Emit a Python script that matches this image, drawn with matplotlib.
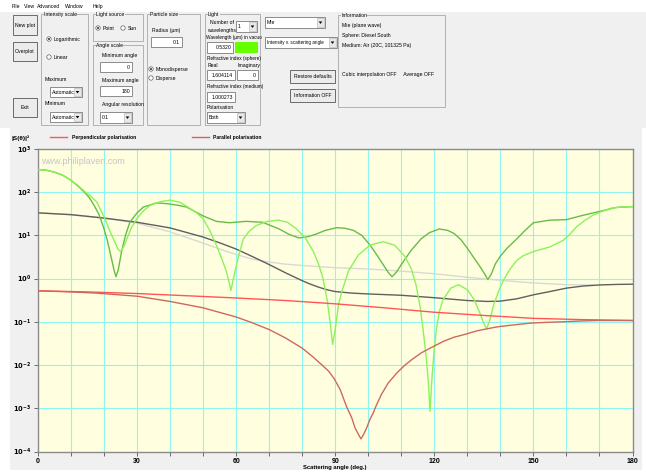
import matplotlib.pyplot as plt
from matplotlib.patches import Rectangle, Circle, Polygon

plt.rcParams['font.family'] = ['Liberation Sans', 'DejaVu Sans']

# ---- data (angle in degrees, |S|^2) ----
green_dark_ang = [0, 2.5, 5, 7.5, 10, 12, 14, 15.5, 17, 18.5, 20, 21, 22, 23, 23.6, 24.3, 25.3, 26.5,
                  27.8, 30, 31.9, 35.9, 38.9, 42, 45, 50, 54, 58, 63, 68, 73, 76, 79, 81.5, 84, 87,
                  90.5, 93, 95.5, 98, 100.5, 102.5, 104.5, 106, 107.2, 108.5, 110.5, 113, 116, 118.5,
                  121.5, 124, 126, 128, 130, 132, 134, 135.3, 136.2, 137.2, 138.5, 140, 142, 145,
                  147.5, 150, 155, 160, 165, 170, 175, 180]
green_dark_val = [331, 320, 288, 245, 186, 140, 100, 75, 49, 30, 14, 7.5, 3.5, 1.6, 1.1, 1.6, 4.2, 10,
                  20, 33, 45, 56, 54, 50, 45, 28, 21, 19.5, 21, 20, 14, 10.5, 8.7, 9.2, 10.5, 13,
                  15, 14.5, 13, 10, 6, 3.6, 2.1, 1.4, 1.1, 1.4, 2.4, 4.5, 8.3, 11.5,
                  14, 13, 11, 8, 5, 3, 1.8, 1.25, 0.95, 1.25, 2.2, 3.3, 5, 8.3,
                  13, 19.5, 22.4, 23, 29, 35.5, 44, 46]

green_light_ang = [0, 2.5, 5, 7.5, 10, 12, 14, 16, 17.8, 19, 20.3, 21.5, 22.8, 24.2, 25, 26, 26.9,
                   28.3, 29.9, 31.8, 33.9, 37, 40, 43, 46, 48, 50, 52, 54, 55.7, 57.1, 57.9, 58.4,
                   58.9, 59.6, 60.8, 62.2, 64, 66.2, 69.5, 72.8, 75.5, 78.3, 81, 83.4, 85, 86.3, 87.6,
                   88.5, 89.2, 89.9, 91, 92, 94, 97, 100.5, 104.5, 108, 111, 113, 114.5, 115.7, 116.6,
                   117.5, 118.2, 118.7, 119.2, 119.9, 120.6, 121.5, 122.6, 125, 127.3, 130, 132, 133.5,
                   134.8, 135.8, 136.8, 138, 139.5, 141, 142.8, 144.9, 147, 150, 155, 159, 161, 163,
                   165.5, 168, 170.5, 173.4, 176.5, 180]
green_light_val = [331, 320, 288, 245, 186, 145, 105, 80, 59, 38, 24, 14, 8.3, 4.8, 4.2, 5.5, 8.3,
                   15, 24, 36, 49, 60, 65, 58, 42, 33, 24, 13, 5.9, 2.8, 1.4, 0.8, 0.53,
                   0.8, 1.4, 3.5, 8.3, 12.5, 17, 21, 22.4, 20, 14, 8.5, 4.2, 2.1, 1.0, 0.3,
                   0.09, 0.03, 0.06, 0.25, 0.5, 1.5, 3.5, 5.9, 7.1, 5.9, 3.3, 1.7, 0.7, 0.22, 0.066,
                   0.016, 0.004, 0.00085, 0.004, 0.02, 0.066, 0.17, 0.32, 0.6, 0.72, 0.55, 0.33, 0.18,
                   0.1, 0.068, 0.11, 0.25, 0.52, 0.93, 1.6, 2.6, 3.4, 4.2, 5.4, 7.6, 10.5, 15.5,
                   22, 29, 35, 42, 45, 46]

gray_dark_ang = [0, 10, 20, 30, 40, 50, 55, 60, 65, 70, 75, 80, 82.5, 85, 87.5, 90, 95, 100, 110, 120,
                 130, 136, 140, 145, 150, 155, 160, 165, 170, 175, 180]
gray_dark_val = [33, 30, 25, 20, 14.8, 9.1, 6.7, 4.8, 3.2, 2.1, 1.35, 0.89, 0.74, 0.63, 0.55, 0.5, 0.46,
                 0.44, 0.41, 0.36, 0.31, 0.295, 0.3, 0.34, 0.42, 0.5, 0.6, 0.67, 0.71, 0.73, 0.74]

gray_light_ang = [0, 10, 20, 30, 40, 50, 55, 60, 65, 70, 75, 80, 90, 100, 110, 120, 130, 140, 150,
                  160, 168]
gray_light_val = [33, 30, 25, 19, 12, 6.6, 4.8, 3.6, 2.8, 2.4, 2.15, 2.0, 1.78, 1.66, 1.48, 1.29, 1.07,
                  0.91, 0.79, 0.72, 0.71]

perp_ang = [0, 15, 30, 45, 60, 75, 90, 105, 120, 135, 150, 165, 180]
perp_val = [0.52, 0.49, 0.45, 0.40, 0.355, 0.31, 0.26, 0.21, 0.166, 0.14, 0.12, 0.112, 0.107]

par_ang = [0, 10, 17.8, 30, 40, 50, 60, 65, 70, 75, 80, 83, 86, 88, 89.7, 91.5, 93.4, 95, 96, 97,
           97.8, 98.6, 99.5, 100.5, 101.5, 102.5, 104, 106, 108.6, 111, 113, 116, 118.7, 123, 126,
           128.8, 133, 138.9, 143, 149, 154, 159, 164, 169.4, 180]
par_val = [0.52, 0.49, 0.46, 0.39, 0.295, 0.21, 0.129, 0.094, 0.066, 0.042, 0.0245, 0.016, 0.01,
           0.0072, 0.0048, 0.0027, 0.0011, 0.0006, 0.00035, 0.00025, 0.000195, 0.00025, 0.00035,
           0.00055, 0.00078, 0.0012, 0.0021, 0.0038, 0.0065, 0.0098, 0.013, 0.019, 0.0245, 0.036,
           0.044, 0.05, 0.062, 0.076, 0.083, 0.093, 0.097, 0.1, 0.104, 0.107, 0.107]

x_ticks = [0, 30, 60, 90, 120, 150, 180]
y_exps = [-4, -3, -2, -1, 0, 1, 2, 3]

C_PERP = '#ff5555'
C_PAR = '#d0675c'
GUI = '#f0f0f0'
FS = 3.7

W, H = 646, 474
fig = plt.figure(figsize=(W / 100, H / 100), dpi=100, facecolor='white')

# background axes in pixel coordinates for the window chrome
bg = fig.add_axes([0, 0, 1, 1], zorder=0)
bg.set_xlim(0, W)
bg.set_ylim(H, 0)
bg.axis('off')


def rect(x0, y0, x1, y1, fc='none', ec='none', lw=0.6, z=1):
    bg.add_patch(Rectangle((x0, y0), x1 - x0, y1 - y0, facecolor=fc, edgecolor=ec, linewidth=lw, zorder=z))


def label(x, y, s, ha='left', size=FS, **kw):
    bg.text(x, y, s, ha=ha, va='center', fontsize=size, color='black', zorder=5, **kw)


def group(x0, y0, x1, y1, title):
    rect(x0, y0, x1, y1, ec='#a8a8a8', lw=0.6)
    bg.text(x0 + 3, y0, title, ha='left', va='center', fontsize=FS, zorder=5,
            bbox=dict(facecolor=GUI, edgecolor='none', pad=0.3))


def button(x0, y0, x1, y1, s):
    rect(x0, y0, x1, y1, fc='#ececec', ec='#6a6a6a', lw=0.7, z=2)
    label((x0 + x1) / 2, (y0 + y1) / 2, s, ha='center')


def textbox(x0, y0, x1, y1, s):
    rect(x0, y0, x1, y1, fc='white', ec='#7a7a7a', lw=0.6, z=2)
    label(x1 - 2, (y0 + y1) / 2, s, ha='right')


def dropdown(x0, y0, x1, y1, s, size=FS):
    rect(x0, y0, x1, y1, fc='white', ec='#7a7a7a', lw=0.6, z=2)
    rect(x1 - 8, y0 + 1, x1 - 1, y1 - 1, fc='#e8e8e8', ec='#b0b0b0', lw=0.4, z=3)
    my = (y0 + y1) / 2
    bg.add_patch(Polygon([[x1 - 6.3, my - 1], [x1 - 2.7, my - 1], [x1 - 4.5, my + 1.4]],
                         closed=True, facecolor='black', edgecolor='none', zorder=4))
    label(x0 + 2, my, s, size=size)


def radio(x, y, s, checked=False):
    bg.add_patch(Circle((x, y), 2.2, facecolor='white', edgecolor='#606060', linewidth=0.5, zorder=3))
    if checked:
        bg.add_patch(Circle((x, y), 0.9, facecolor='black', edgecolor='none', zorder=4))
    label(x + 5, y, s)


# window panels
rect(0, 12, W, 128, fc=GUI)
rect(10, 128, 642, 470, fc=GUI)

# menu bar
for mx, s in [(12, 'File'), (24, 'View'), (37, 'Advanced'), (65, 'Window'), (93, 'Help')]:
    label(mx, 6, s)

button(13, 15, 37, 35, 'New plot')
button(13, 42, 37, 61, 'Overplot')
button(13, 98, 37, 117, 'Exit')

group(41, 14, 88, 125, 'Intensity scale')
radio(49, 39, 'Logarithmic', True)
radio(49, 57, 'Linear')
label(45, 79, 'Maximum')
dropdown(50, 87, 82, 97, 'Automatic')
label(45, 103, 'Minimum')
dropdown(50, 112, 82, 122, 'Automatic')

group(93, 14, 143, 41, 'Light source')
radio(98, 28, 'Point', True)
radio(123, 28, 'Sun')

group(93, 45, 143, 125, 'Angle scale')
label(102, 55, 'Minimum angle')
textbox(100, 62, 132, 72, '0')
label(102, 80, 'Maximum angle')
textbox(100, 86, 132, 96, '180')
label(102, 104, 'Angular resolution')
dropdown(100, 112, 132, 123, '0.1')

group(147, 14, 200, 125, 'Particle size')
label(152, 30, 'Radius (µm)')
textbox(151, 37, 182, 47, '0.1')
radio(151, 69, 'Monodisperse', True)
radio(151, 78, 'Disperse')

group(205, 14, 260, 125, 'Light')
label(222, 22, 'Number of', ha='center')
label(222, 30, 'wavelengths', ha='center')
dropdown(236, 21, 257, 32, '1')
label(206, 37, 'Wavelength (µm) in vacuo', size=3.4)
textbox(207, 42, 233, 53, '0.5320')
rect(235, 42, 258, 53, fc='#66ff00', z=2)
label(207, 58, 'Refractive index (sphere)', size=3.4)
label(208, 65, 'Real')
label(238, 65, 'Imaginary')
textbox(207, 70, 235, 80, '1.604114')
textbox(237, 70, 258, 80, '0')
label(207, 86, 'Refractive index (medium)', size=3.4)
textbox(207, 92, 235, 102, '1.000273')
label(207, 107, 'Polarisation')
dropdown(207, 112, 245, 123, 'Both')

dropdown(265, 17, 325, 28, 'Mie')
dropdown(265, 37, 337, 48, 'Intensity v. scattering angle', size=3.3)
button(290, 70, 335, 83, 'Restore defaults')
button(290, 89, 335, 102, 'Information OFF')

group(338, 15, 445, 107, 'Information')
label(342, 25, 'Mie (plane wave)')
label(342, 35, 'Sphere: Diesel South')
label(342, 45, 'Medium: Air (20C, 101325 Pa)')
label(342, 74, 'Cubic interpolation OFF     Average OFF')

# legend row above the plot
bg.text(12, 138, '|S(θ)|²', ha='left', va='center', fontsize=4.6, fontweight='bold', zorder=5)
bg.plot([50, 67], [137, 137], color=C_PERP, lw=1.0, zorder=5)
label(72, 137, 'Perpendicular polarisation', size=3.6, fontweight='bold')
bg.plot([192, 209], [137, 137], color=C_PAR, lw=1.0, zorder=5)
label(213, 137, 'Parallel polarisation', size=3.6, fontweight='bold')

# ---- main plot ----
x0, x1, y0, y1 = 38, 632.5, 148.8, 451.5
ax = fig.add_axes([x0 / W, 1 - y1 / H, (x1 - x0) / W, (y1 - y0) / H], zorder=2)
ax.set_facecolor('#ffffe0')
ax.set_yscale('log')
ax.set_xlim(0, 180)
ax.set_ylim(1e-4, 1e3)

for a in range(10, 180, 10):
    ax.axvline(a, color='#8ff5f0', lw=0.8, zorder=1)
for e in y_exps[1:-1]:
    ax.axhline(10.0 ** e, color='#8ff5f0', lw=0.8, zorder=1)

ax.plot(gray_light_ang, gray_light_val, color='#d9d9d2', lw=1.0, zorder=3)
ax.plot(gray_dark_ang, gray_dark_val, color='#5f5f5f', lw=1.0, zorder=3)
ax.plot(green_dark_ang, green_dark_val, color='#68bc45', lw=1.0, zorder=4)
ax.plot(green_light_ang, green_light_val, color='#8cf25a', lw=1.0, zorder=4)
ax.plot(perp_ang, perp_val, color=C_PERP, lw=1.0, zorder=5)
ax.plot(par_ang, par_val, color=C_PAR, lw=1.0, zorder=5)

ax.text(1, 5.2e2, 'www.philiplaven.com', fontsize=6.5, color='#c4c4c4', va='center', zorder=2)

for sp in ax.spines.values():
    sp.set_color('#8a8a8a')
    sp.set_linewidth(1.0)

ax.set_xticks(x_ticks)
ax.set_xticks(range(0, 181, 10), minor=True)
ax.set_xticklabels([str(t) for t in x_ticks], fontsize=5, fontweight='bold')
ax.set_yticks([10.0 ** e for e in y_exps])
ax.set_yticklabels([r'$\mathbf{10^{%d}}$' % e for e in y_exps], fontsize=4.8)
ax.yaxis.set_minor_locator(plt.NullLocator())
ax.tick_params(which='both', direction='out', length=3, width=0.6, color='#555555', pad=2)
ax.set_xlabel('Scattering angle (deg.)', fontsize=4.2, fontweight='bold', labelpad=1)
ax.xaxis.set_label_coords((335 - x0) / (x1 - x0), -0.045)

fig.savefig('out.png', dpi=100, facecolor='white')
